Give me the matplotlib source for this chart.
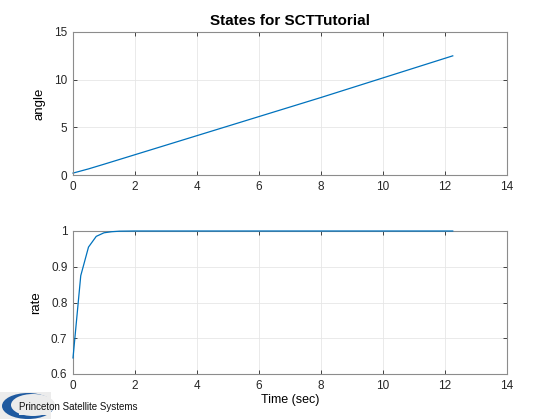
import matplotlib
matplotlib.use('Agg')
import matplotlib.pyplot as plt
from matplotlib.patches import Rectangle, Ellipse

plt.rcParams['font.family'] = ['Liberation Sans', 'DejaVu Sans']

# data
angle_time = [0, 0.25, 0.5, 1.0, 2.0, 4.0, 8.0, 12.25]
angle = [0.2, 0.42, 0.64, 1.13, 2.13, 4.13, 8.13, 12.5]

rate_time = [0, 0.25, 0.5, 0.75, 1.0, 1.25, 1.5, 2.0, 12.25]
rate = [0.645, 0.875, 0.955, 0.985, 0.995, 0.998, 0.9995, 1.0, 1.0]

x_ticks = [0, 2, 4, 6, 8, 10, 12, 14]
angle_ticks = [0, 5, 10, 15]
rate_ticks = [0.6, 0.7, 0.8, 0.9, 1.0]
rate_labels = ['0.6', '0.7', '0.8', '0.9', '1']

line_col = '#0072BD'
frame_col = '#262626'
W, H = 560, 420

fig = plt.figure(figsize=(5.6, 4.2), dpi=100)


def style_axes(ax):
    ax.grid(True, color='#e6e6e6', linewidth=0.6)
    ax.set_axisbelow(True)
    for s in ax.spines.values():
        s.set_color('#8c8c8c')
        s.set_linewidth(0.8)
    ax.tick_params(direction='in', length=3, width=0.6, colors=frame_col,
                   labelsize=8.5, top=True, right=True, pad=4)


ax1 = fig.add_axes([73 / W, 1 - 175 / H, 434 / W, 143 / H])
ax1.plot(angle_time, angle, color=line_col, linewidth=0.9, clip_on=False)
ax1.set_xlim(0, 14)
ax1.set_ylim(0, 15)
ax1.set_xticks(x_ticks)
ax1.set_yticks(angle_ticks)
ax1.set_ylabel('angle', fontsize=9.5, labelpad=6)
ax1.set_title('States for SCTTutorial', fontsize=11, fontweight='bold', pad=5)
style_axes(ax1)

ax2 = fig.add_axes([73 / W, 1 - 374 / H, 434 / W, 143 / H])
ax2.plot(rate_time, rate, color=line_col, linewidth=0.9, clip_on=False,
         zorder=5)
ax2.set_xlim(0, 14)
ax2.set_ylim(0.6, 1.0)
ax2.set_xticks(x_ticks)
ax2.set_yticks(rate_ticks)
ax2.set_yticklabels(rate_labels)
ax2.set_ylabel('rate', fontsize=9.5, labelpad=6)
ax2.set_xlabel('Time (sec)', fontsize=9, labelpad=2)
style_axes(ax2)

# logo in the lower left corner
logo = fig.add_axes([0, 0, 1, 1], zorder=-1)
logo.set_xlim(0, W)
logo.set_ylim(H, 0)
logo.axis('off')
logo.add_patch(Rectangle((0, 392), 51, 27, color='#ececec', lw=0))
logo.add_patch(Ellipse((28, 406), 52, 26, color='#1f5aa0', lw=0))
logo.add_patch(Ellipse((33, 405), 44, 22, color='#ececec', lw=0))
logo.add_patch(Rectangle((19, 397), 32, 18, color='#ececec', lw=0))
logo.text(19, 407, 'Princeton Satellite Systems', fontsize=7, va='center',
          ha='left', color='#111111')

fig.savefig('out.png', dpi=100)
